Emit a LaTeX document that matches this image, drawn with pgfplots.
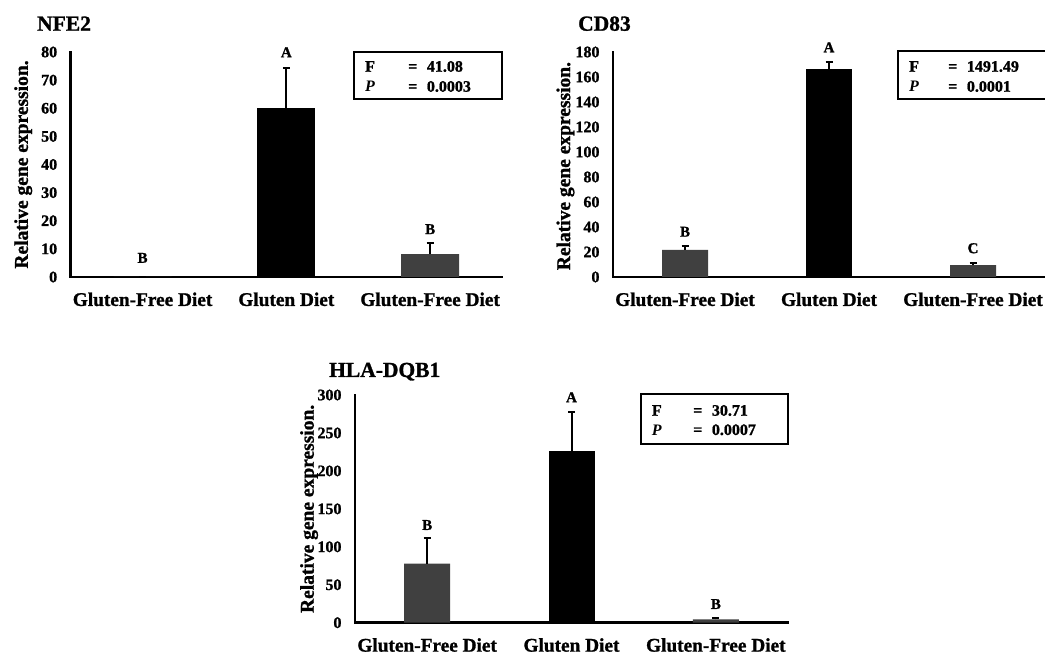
\documentclass[border=0pt]{standalone}
\usepackage{pgfplots}
\pgfplotsset{compat=1.18}
\usepackage{fontspec}
\setmainfont{Liberation Serif}[BoldFeatures={FakeBold=1.2}]
\definecolor{dgray}{HTML}{404040}
\pgfplotsset{
  panel/.style={
    scale only axis, anchor=south west,
    xmin=-0.5, xmax=2.5, ymin=0,
    axis x line*=bottom, axis y line*=left,
    axis line style={line width=2.7pt, line cap=rect},
    major tick length=0pt,
    xtick={0,1,2},
    xticklabels={Gluten-Free Diet, Gluten Diet, Gluten-Free Diet},
    xticklabel style={font=\fontsize{19.3}{22}\selectfont\bfseries, yshift=-12pt},
    yticklabel style={font=\fontsize{16}{18}\selectfont\bfseries, xshift=-10pt},
    ylabel={Relative gene expression.},
    ylabel style={font=\fontsize{19.5}{22}\selectfont\bfseries, anchor=center},
    /pgf/number format/assume math mode=true,
    clip=false,
  },
  errb/.style={
    error bars/y dir=plus, error bars/y explicit,
    error bars/error bar style={line width=2pt, black},
    error bars/error mark options={rotate=90, mark size=3.5pt, line width=2pt, black}},
  gbar/.style={ybar, bar shift=0pt, fill=dgray, draw=none, errb},
  bbar/.style={ybar, bar shift=0pt, fill=black, draw=none, errb},
}
\tikzset{lett/.style={font=\fontsize{15}{15}\selectfont\bfseries, inner sep=0pt, anchor=center}}
\newcommand{\boxtxt}{\fontsize{16}{16}\selectfont\bfseries}
\begin{document}
\begin{tikzpicture}
\useasboundingbox (0pt,0pt) rectangle (1045pt,-655pt);

% ---------- NFE2 ----------
\begin{axis}[panel, at={(70.7pt,-277pt)}, width=431.3pt, height=225pt,
  ymax=80, ytick={0,10,...,80},
  ylabel style={at={(axis description cs:-0.11,0.5)}}]
\addplot[gbar, bar width=58pt] coordinates {(0,0) +- (0,0) (2,8.1) +- (0,4.0)};
\addplot[bbar, bar width=58pt] coordinates {(1,60) +- (0,14.2)};
\node[lett] at (axis cs:0,6.8) {B};
\node[lett] at (axis cs:1,79.9) {A};
\node[lett] at (axis cs:2,17) {B};
\end{axis}

% ---------- CD83 ----------
\begin{axis}[panel, at={(613pt,-277pt)}, width=432pt, height=225pt,
  ymax=180, ytick={0,20,...,180},
  ylabel style={at={(axis description cs:-0.11,0.493)}}]
\addplot[gbar, bar width=46pt] coordinates {(0,21.6) +- (0,3.2) (2,9.4) +- (0,1.8)};
\addplot[bbar, bar width=46pt] coordinates {(1,166.4) +- (0,5.6)};
\node[lett] at (axis cs:0,36.2) {B};
\node[lett] at (axis cs:1,183.7) {A};
\node[lett] at (axis cs:2,23) {C};
\end{axis}

% ---------- HLA-DQB1 ----------
\begin{axis}[panel, at={(355pt,-622.7pt)}, width=433pt, height=227.7pt,
  ymax=300, ytick={0,50,...,300},
  ylabel style={at={(axis description cs:-0.106,0.5)}}]
\addplot[gbar, bar width=46pt] coordinates {(0,78) +- (0,34) (2,4.5) +- (0,2.0)};
\addplot[bbar, bar width=46pt] coordinates {(1,226.6) +- (0,51.4)};
\node[lett] at (axis cs:0,128.7) {B};
\node[lett] at (axis cs:1,297) {A};
\node[lett] at (axis cs:2,24.6) {B};
\end{axis}

% ---------- titles ----------
\node[anchor=base west, inner sep=0pt, font=\fontsize{21.5}{22}\selectfont\bfseries] at (37pt,-30.7pt) {NFE2};
\node[anchor=base west, inner sep=0pt, font=\fontsize{21.5}{22}\selectfont\bfseries] at (578pt,-30.7pt) {CD83};
\node[anchor=base west, inner sep=0pt, font=\fontsize{21.5}{22}\selectfont\bfseries] at (329pt,-377pt) {HLA-DQB1};

% ---------- stat boxes ----------
\draw[line width=1.6pt] (354pt,-52pt) rectangle (502pt,-99pt);
\node[anchor=base west, inner sep=0pt] at (365pt,-71.7pt) {\boxtxt F};
\node[anchor=base west, inner sep=0pt] at (408pt,-71.7pt) {\boxtxt =};
\node[anchor=base west, inner sep=0pt] at (426.7pt,-71.7pt) {\boxtxt 41.08};
\node[anchor=base west, inner sep=0pt] at (365pt,-91.7pt) {\boxtxt\itshape P};
\node[anchor=base west, inner sep=0pt] at (408pt,-91.7pt) {\boxtxt =};
\node[anchor=base west, inner sep=0pt] at (426.7pt,-91.7pt) {\boxtxt 0.0003};

\draw[line width=1.6pt] (898pt,-51pt) rectangle (1052pt,-99pt);
\node[anchor=base west, inner sep=0pt] at (909pt,-71.7pt) {\boxtxt F};
\node[anchor=base west, inner sep=0pt] at (948pt,-71.7pt) {\boxtxt =};
\node[anchor=base west, inner sep=0pt] at (966.7pt,-71.7pt) {\boxtxt 1491.49};
\node[anchor=base west, inner sep=0pt] at (909pt,-91.7pt) {\boxtxt\itshape P};
\node[anchor=base west, inner sep=0pt] at (948pt,-91.7pt) {\boxtxt =};
\node[anchor=base west, inner sep=0pt] at (966.7pt,-91.7pt) {\boxtxt 0.0001};

\draw[line width=1.6pt] (640.7pt,-394pt) rectangle (788pt,-444pt);
\node[anchor=base west, inner sep=0pt] at (651.7pt,-415.7pt) {\boxtxt F};
\node[anchor=base west, inner sep=0pt] at (693pt,-415.7pt) {\boxtxt =};
\node[anchor=base west, inner sep=0pt] at (711.7pt,-415.7pt) {\boxtxt 30.71};
\node[anchor=base west, inner sep=0pt] at (651.7pt,-435pt) {\boxtxt\itshape P};
\node[anchor=base west, inner sep=0pt] at (693pt,-435pt) {\boxtxt =};
\node[anchor=base west, inner sep=0pt] at (711.7pt,-435pt) {\boxtxt 0.0007};
\end{tikzpicture}
\end{document}
